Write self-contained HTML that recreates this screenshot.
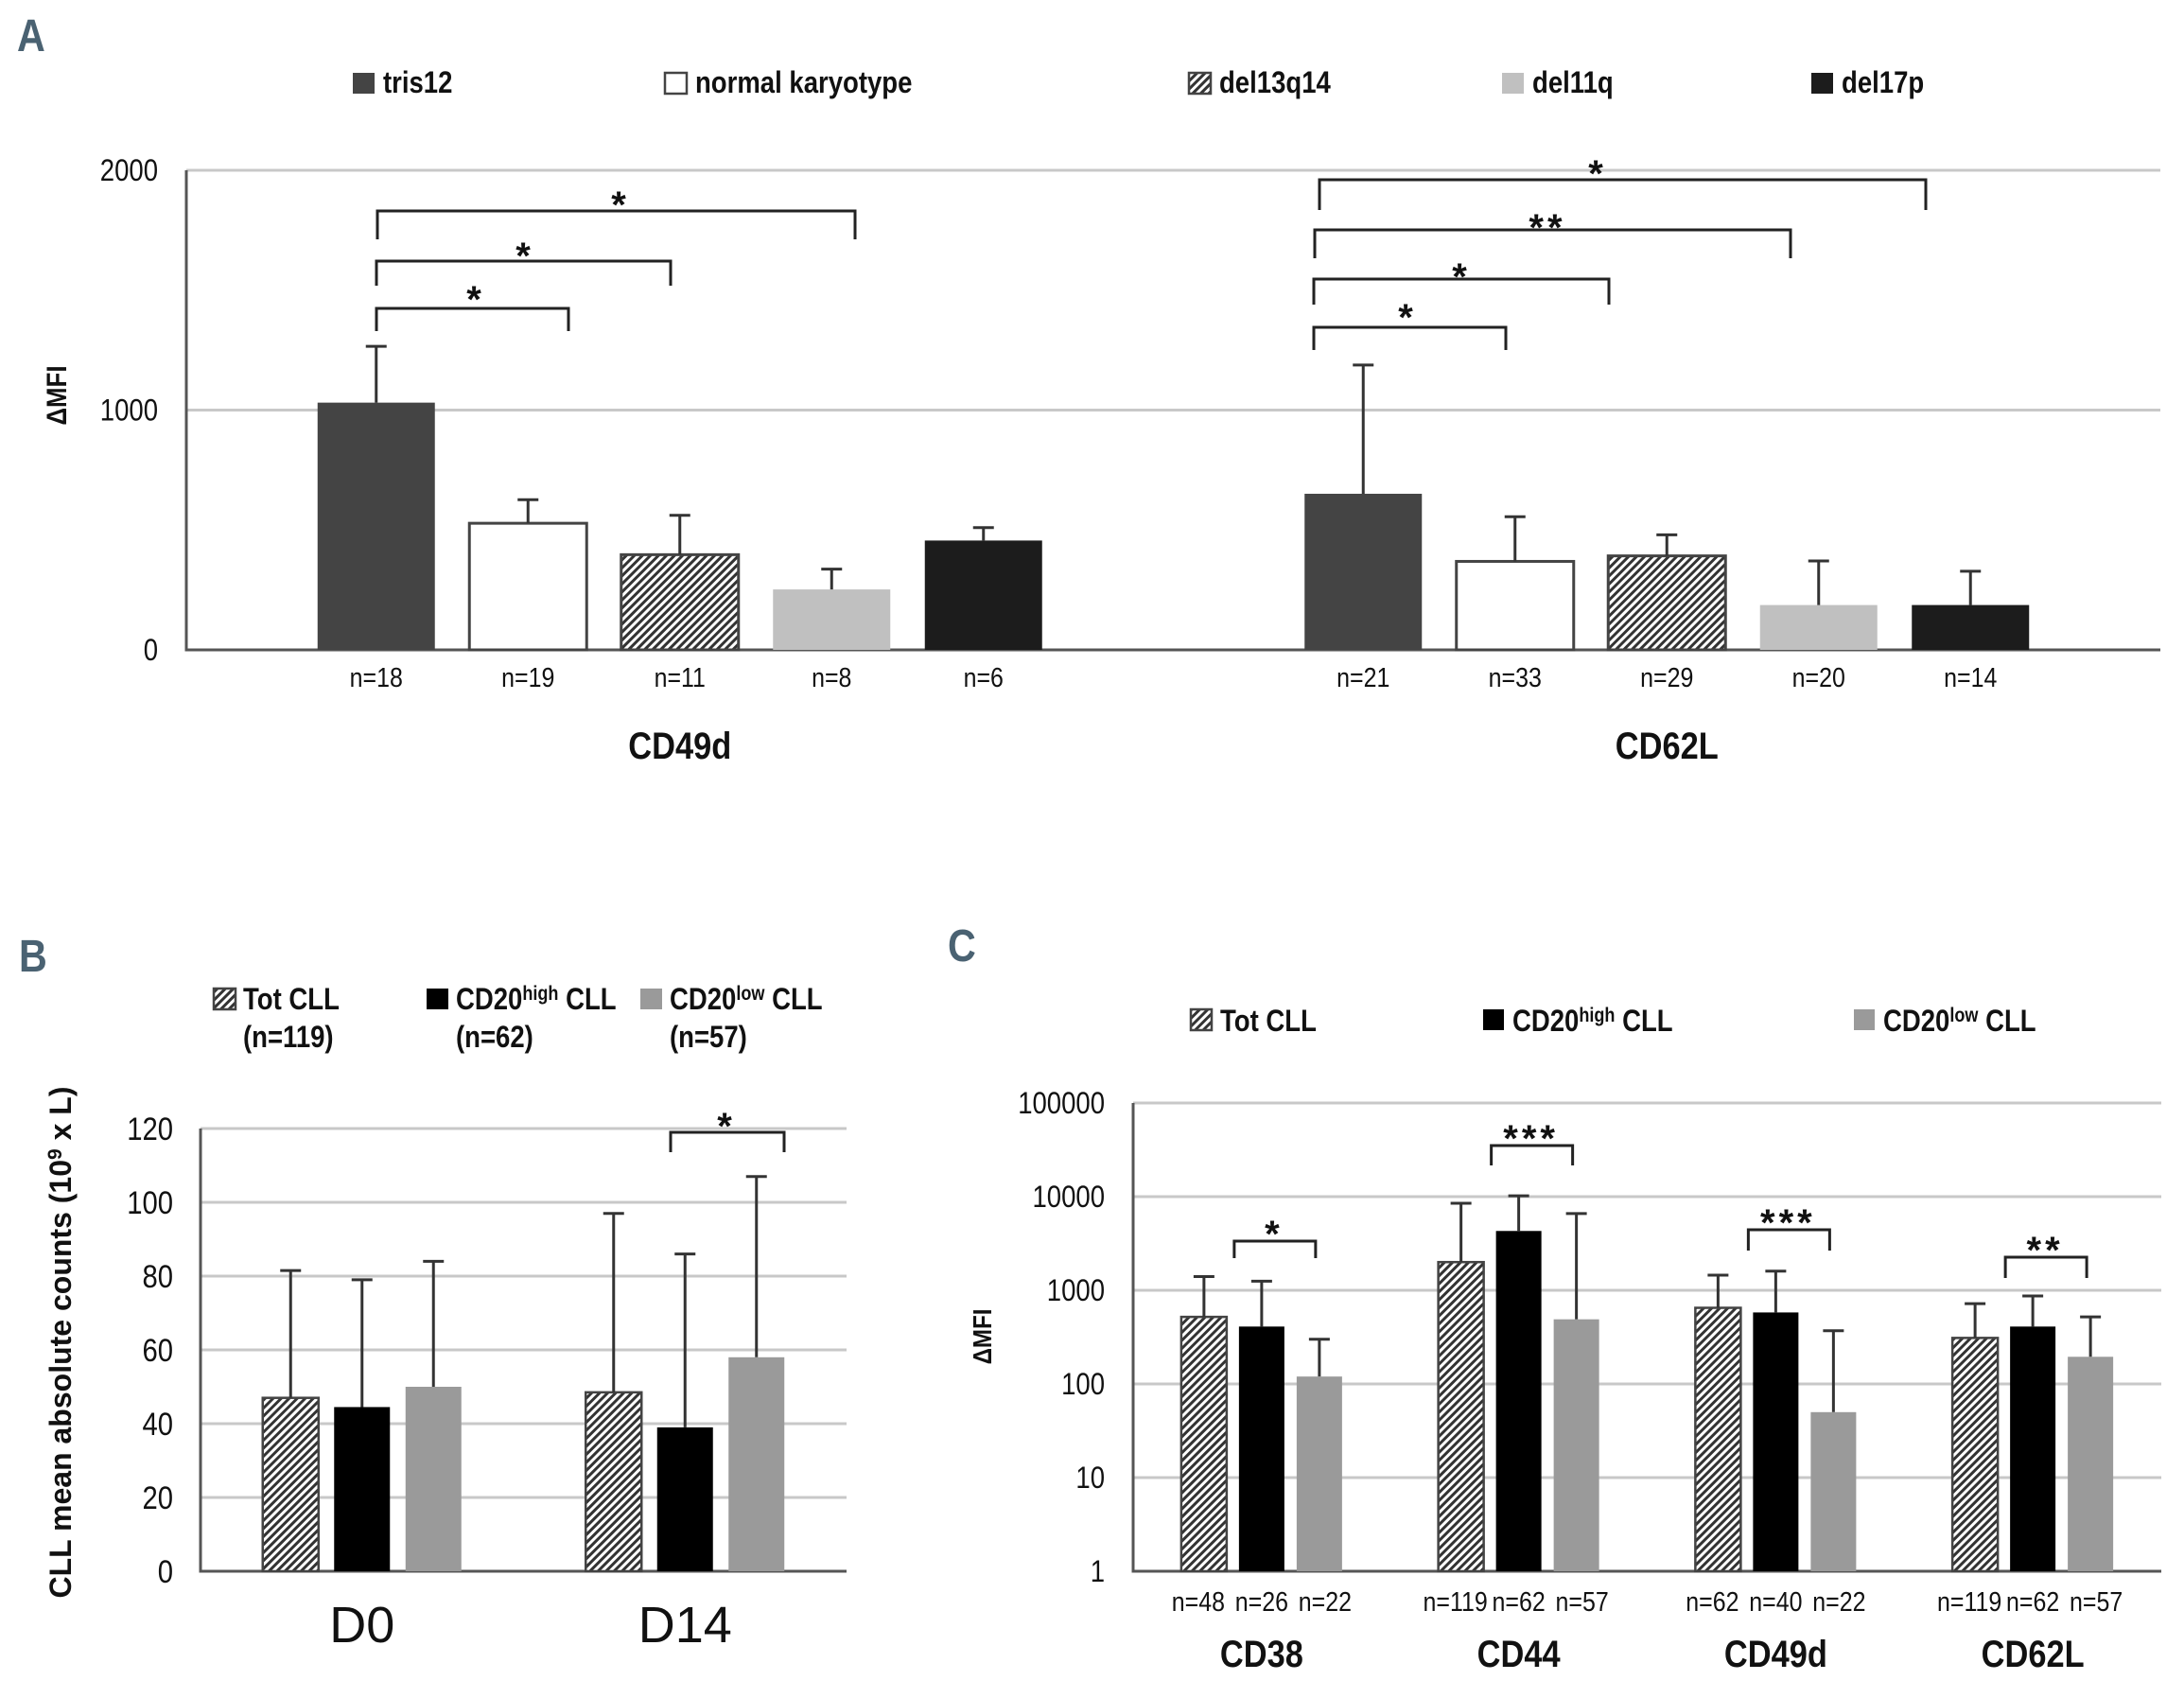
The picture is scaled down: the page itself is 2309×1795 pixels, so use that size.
<!DOCTYPE html>
<html><head><meta charset="utf-8"><style>
html,body{margin:0;padding:0;background:#fff;}
svg{display:block;}
text{font-family:"Liberation Sans Narrow","Liberation Sans",sans-serif;fill:#111;}
</style></head><body>
<svg id="fig" xmlns="http://www.w3.org/2000/svg" width="2309" height="1795" viewBox="0 0 2309 1795">
<defs>
<pattern id="hatch" patternUnits="userSpaceOnUse" width="6" height="6" patternTransform="rotate(45)">
<rect width="6" height="6" fill="#fff"/><rect width="3" height="6" fill="#333"/>
</pattern>
</defs>
<g id="panelA"></g>
<g id="panelB"></g>
<g id="panelC"></g>
</svg>
<script>
// ---------- Panel A data ----------
const aCategories = ["CD49d", "CD62L"];
const aSeries = ["tris12", "normal karyotype", "del13q14", "del11q", "del17p"];
const aValuesCD49d = [1031, 528, 397, 252, 456];
const aErrorsCD49d = [1266, 626, 561, 337, 510];
const aValuesCD62L = [651, 369, 392, 187, 187];
const aErrorsCD62L = [1188, 555, 480, 371, 328];
const aNCD49d = ["n=18", "n=19", "n=11", "n=8", "n=6"];
const aNCD62L = ["n=21", "n=33", "n=29", "n=20", "n=14"];
const aTicks = [0, 1000, 2000];
// ---------- Panel B data ----------
const bCategories = ["D0", "D14"];
const bSeries = ["Tot CLL", "CD20high CLL", "CD20low CLL"];
const bSeriesN = ["(n=119)", "(n=62)", "(n=57)"];
const bValuesTot = [47, 48.5];
const bErrorsTot = [81.5, 97];
const bValuesHigh = [44.5, 39];
const bErrorsHigh = [79, 86];
const bValuesLow = [50, 58];
const bErrorsLow = [84, 107];
const bTicks = [0, 20, 40, 60, 80, 100, 120];
// ---------- Panel C data ----------
const cCategories = ["CD38", "CD44", "CD49d", "CD62L"];
const cValuesTot = [520, 2000, 650, 310];
const cErrorsTot = [1400, 8500, 1450, 720];
const cValuesHigh = [410, 4300, 580, 410];
const cErrorsHigh = [1250, 10200, 1600, 870];
const cValuesLow = [120, 490, 50, 195];
const cErrorsLow = [300, 6600, 370, 520];
const cNTot = ["n=48", "n=119", "n=62", "n=119"];
const cNHigh = ["n=26", "n=62", "n=40", "n=62"];
const cNLow = ["n=22", "n=57", "n=22", "n=57"];
const cTicks = [1, 10, 100, 1000, 10000, 100000];
const cSig = ["*", "***", "***", "**"];

const NS = "http://www.w3.org/2000/svg";
function mk(parent, tag, attrs, txt) {
  const e = document.createElementNS(NS, tag);
  for (const k in attrs) e.setAttribute(k, attrs[k]);
  if (txt !== undefined) e.textContent = txt;
  parent.appendChild(e);
  return e;
}
function errBar(g, x, y1, y2, name) {
  const l = mk(g, "path", {d: `M${x},${y1}V${y2}M${x-11},${y2}H${x+11}`, stroke: "#333", "stroke-width": 3, fill: "none"});
  
  
}
function bracket(g, x1, x2, y, drop, label, lx, ly, name) {
  const p = mk(g, "path", {d: `M${x1},${y+drop}V${y}H${x2}V${y+drop}`, stroke: "#222", "stroke-width": 3, fill: "none"});
  
  
  const t = mk(g, "text", {x: lx, y: ly + 12, "text-anchor": "middle", "font-size": 40, "font-weight": "bold", "letter-spacing": 4, "data-star": "1"}, label);
  
  
}
function panelLetter(g, x, y, s) {
  const t = mk(g, "text", {x: x, y: y, "font-size": 48, "font-weight": "bold", style: "fill:#4a6272"}, s);
  
  
}

// ================= Panel A =================
(function () {
  const g = document.getElementById("panelA");
  const x0 = 197, x1 = 2284, yTop = 180, yBot = 687, vMax = 2000;
  const yA = v => yBot - v / vMax * (yBot - yTop);
  panelLetter(g, 18, 54, "A");
  aTicks.forEach(t => {
    if (t > 0) {
      const gl = mk(g, "line", {x1: x0, x2: x1, y1: yA(t), y2: yA(t), stroke: "#c8c8c8", "stroke-width": 3});
      
      
    }
    const tl = mk(g, "text", {x: 167, y: yA(t) + 11, "text-anchor": "end", "font-size": 32}, String(t));
    
    
  });
  const ax = mk(g, "path", {d: `M${x0},${yTop}V${yBot}H${x1}`, stroke: "#555", "stroke-width": 3, fill: "none"});
  
  
  const yt = mk(g, "text", {x: 0, y: 0, transform: "translate(70,418) rotate(-90)", "text-anchor": "middle", "font-size": 30, "font-weight": "bold"}, "ΔMFI");
  
  
  const fills = ["#444", "#fff", "url(#hatch)", "#c0c0c0", "#1c1c1c"];
  const strokes = ["none", "#444", "#444", "none", "none"];
  const vals = [aValuesCD49d, aValuesCD62L], errs = [aErrorsCD49d, aErrorsCD62L], ns = [aNCD49d, aNCD62L];
  const catW = (x1 - x0) / aCategories.length, step = 160.5, bw = 124;
  aCategories.forEach((c, ci) => {
    const cx = x0 + catW * (ci + 0.5);
    aSeries.forEach((s, si) => {
      const bx = cx + (si - 2) * step;
      const v = vals[ci][si];
      const r = mk(g, "rect", {x: bx - bw / 2, y: yA(v), width: bw, height: yBot - yA(v), fill: fills[si], stroke: strokes[si], "stroke-width": 3});
      
      
      errBar(g, bx, yA(v), yA(errs[ci][si]), 'error-bar');
      const nt = mk(g, "text", {x: bx, y: 726, "text-anchor": "middle", "font-size": 29}, ns[ci][si]);
      
      
    });
    const ct = mk(g, "text", {x: cx, y: 802, "text-anchor": "middle", "font-size": 40, "font-weight": "bold"}, c);
    
    
  });
  bracket(g, 398, 601, 326, 24, "*", 503, 318, "sig-bracket-cd49d-1");
  bracket(g, 398, 709, 276, 26, "*", 555, 272, "sig-bracket-cd49d-2");
  bracket(g, 399, 904, 223, 30, "*", 656, 218, "sig-bracket-cd49d-3");
  bracket(g, 1389, 1592, 346, 24, "*", 1488, 337, "sig-bracket-cd62l-1");
  bracket(g, 1389, 1701, 295, 27, "*", 1545, 294, "sig-bracket-cd62l-2");
  bracket(g, 1390, 1893, 243, 30, "**", 1636, 242, "sig-bracket-cd62l-3");
  bracket(g, 1395, 2036, 190, 32, "*", 1689, 185, "sig-bracket-cd62l-4");
  const lx = [373, 703, 1257, 1588, 1915];
  aSeries.forEach((s, si) => {
    const sw = mk(g, "rect", {x: lx[si], y: 77, width: 23, height: 22, fill: fills[si], stroke: si === 1 || si === 2 ? "#444" : "none", "stroke-width": 2.5});
    
    
    const t = mk(g, "text", {x: lx[si] + 32, y: 98, "font-size": 32, "font-weight": "bold"}, s);
    
    
  });
})();

// ================= Panel B =================
(function () {
  const g = document.getElementById("panelB");
  const x0 = 212, x1 = 895, yTop = 1193, yBot = 1661, vMax = 120;
  const yB = v => yBot - v / vMax * (yBot - yTop);
  panelLetter(g, 20, 1027, "B");
  bTicks.forEach(t => {
    if (t > 0) {
      const gl = mk(g, "line", {x1: x0, x2: x1, y1: yB(t), y2: yB(t), stroke: "#c8c8c8", "stroke-width": 3});
      
      
    }
    const tl = mk(g, "text", {x: 183, y: yB(t) + 12, "text-anchor": "end", "font-size": 34}, String(t));
    
    
  });
  const ax = mk(g, "path", {d: `M${x0},${yTop}V${yBot}H${x1}`, stroke: "#555", "stroke-width": 3, fill: "none"});
  
  
  const yt = mk(g, "text", {x: 0, y: 0, transform: "translate(75,1419) rotate(-90)", "text-anchor": "middle", "font-size": 32, "font-weight": "bold", "data-keep": "1"});
  yt.innerHTML = 'CLL mean absolute counts (10<tspan dy="-10" font-size="21">9</tspan><tspan dy="10"> x L)</tspan>';
  
  
  const fills = ["url(#hatch)", "#000", "#9a9a9a"];
  const vals = [bValuesTot, bValuesHigh, bValuesLow], errs = [bErrorsTot, bErrorsHigh, bErrorsLow];
  const catW = (x1 - x0) / bCategories.length, step = 75.5, bw = 59;
  bCategories.forEach((c, ci) => {
    const cx = x0 + catW * (ci + 0.5);
    vals.forEach((sv, si) => {
      const bx = cx + (si - 1) * step;
      const v = sv[ci];
      const r = mk(g, "rect", {x: bx - bw / 2, y: yB(v), width: bw, height: yBot - yB(v), fill: fills[si], stroke: si === 0 ? "#444" : "none", "stroke-width": 2.5});
      
      
      errBar(g, bx, yB(v), yB(errs[si][ci]), 'error-bar');
    });
    const ct = mk(g, "text", {x: cx, y: 1736, "text-anchor": "middle", "font-size": 54, "data-keep": "1"}, c);
    
    
  });
  bracket(g, 709, 829, 1197, 21, "*", 768, 1192, "sig-bracket-d14");
  const lx = [226, 451, 677];
  bSeries.forEach((s, si) => {
    const sw = mk(g, "rect", {x: lx[si], y: 1045, width: 23, height: 22, fill: fills[si], stroke: si === 0 ? "#444" : "none", "stroke-width": 2.5});
    
    
    const t = mk(g, "text", {x: lx[si] + 31, y: 1067, "font-size": 32, "font-weight": "bold"});
    if (si === 0) t.textContent = s;
    else t.innerHTML = 'CD20<tspan dy="-10" font-size="21">' + (si === 1 ? 'high' : 'low') + '</tspan><tspan dy="10"> CLL</tspan>';
    
    
    const n = mk(g, "text", {x: lx[si] + 31, y: 1107, "font-size": 32, "font-weight": "bold"}, bSeriesN[si]);
    
    
  });
})();

// ================= Panel C =================
(function () {
  const g = document.getElementById("panelC");
  const x0 = 1198, x1 = 2285, yTop = 1166, yBot = 1661;
  const dec = (yBot - yTop) / 5;
  const yC = v => yBot - Math.log10(v) * dec;
  panelLetter(g, 1002, 1016, "C");
  cTicks.forEach(t => {
    if (t > 1) {
      const gl = mk(g, "line", {x1: x0, x2: x1, y1: yC(t), y2: yC(t), stroke: "#c8c8c8", "stroke-width": 3});
      
      
    }
    const tl = mk(g, "text", {x: 1168, y: yC(t) + 11, "text-anchor": "end", "font-size": 32}, String(t));
    
    
  });
  const ax = mk(g, "path", {d: `M${x0},${yTop}V${yBot}H${x1}`, stroke: "#555", "stroke-width": 3, fill: "none"});
  
  
  const yt = mk(g, "text", {x: 0, y: 0, transform: "translate(1048,1413) rotate(-90)", "text-anchor": "middle", "font-size": 28, "font-weight": "bold"}, "ΔMFI");
  
  
  const fills = ["url(#hatch)", "#000", "#9a9a9a"];
  const vals = [cValuesTot, cValuesHigh, cValuesLow], errs = [cErrorsTot, cErrorsHigh, cErrorsLow], ns = [cNTot, cNHigh, cNLow];
  const catW = (x1 - x0) / cCategories.length, step = 61, bw = 48;
  const brY = [1312, 1211, 1300, 1329], brD = [18, 21, 22, 22];
  cCategories.forEach((c, ci) => {
    const cx = x0 + catW * (ci + 0.5);
    vals.forEach((sv, si) => {
      const bx = cx + (si - 1) * step;
      const v = sv[ci];
      const r = mk(g, "rect", {x: bx - bw / 2, y: yC(v), width: bw, height: yBot - yC(v), fill: fills[si], stroke: si === 0 ? "#444" : "none", "stroke-width": 2.5});
      
      
      errBar(g, bx, yC(v), yC(errs[si][ci]), 'error-bar');
      const nt = mk(g, "text", {x: bx - 6 + si * 6, y: 1703, "text-anchor": "middle", "font-size": 29}, ns[si][ci]);
      
      
    });
    const ct = mk(g, "text", {x: cx, y: 1762, "text-anchor": "middle", "font-size": 40, "font-weight": "bold"}, c);
    
    
    bracket(g, cx - 29, cx + 57, brY[ci], brD[ci], cSig[ci], cx + 13, brY[ci] - 6, 'sig-bracket-' + c.toLowerCase());
  });
  const lx = [1259, 1568, 1960];
  const labels = ["Tot CLL", "high", "low"];
  lx.forEach((x, si) => {
    const sw = mk(g, "rect", {x: x, y: 1067, width: 22, height: 22, fill: fills[si], stroke: si === 0 ? "#444" : "none", "stroke-width": 2.5});
    
    
    const t = mk(g, "text", {x: x + 31, y: 1090, "font-size": 32, "font-weight": "bold"});
    if (si === 0) t.textContent = labels[0];
    else t.innerHTML = 'CD20<tspan dy="-10" font-size="21">' + labels[si] + '</tspan><tspan dy="10"> CLL</tspan>';
    
    
  });
})();

// condense text horizontally to mimic the narrow font of the original
document.querySelectorAll('#fig text').forEach(t => {
  if (t.getAttribute('data-keep') || t.getAttribute('data-star')) return;
  const len = t.getComputedTextLength();
  if (len > 0) {
    t.setAttribute('textLength', (len * 0.86).toFixed(1));
    t.setAttribute('lengthAdjust', 'spacingAndGlyphs');
  }
});
</script>
</body></html>
